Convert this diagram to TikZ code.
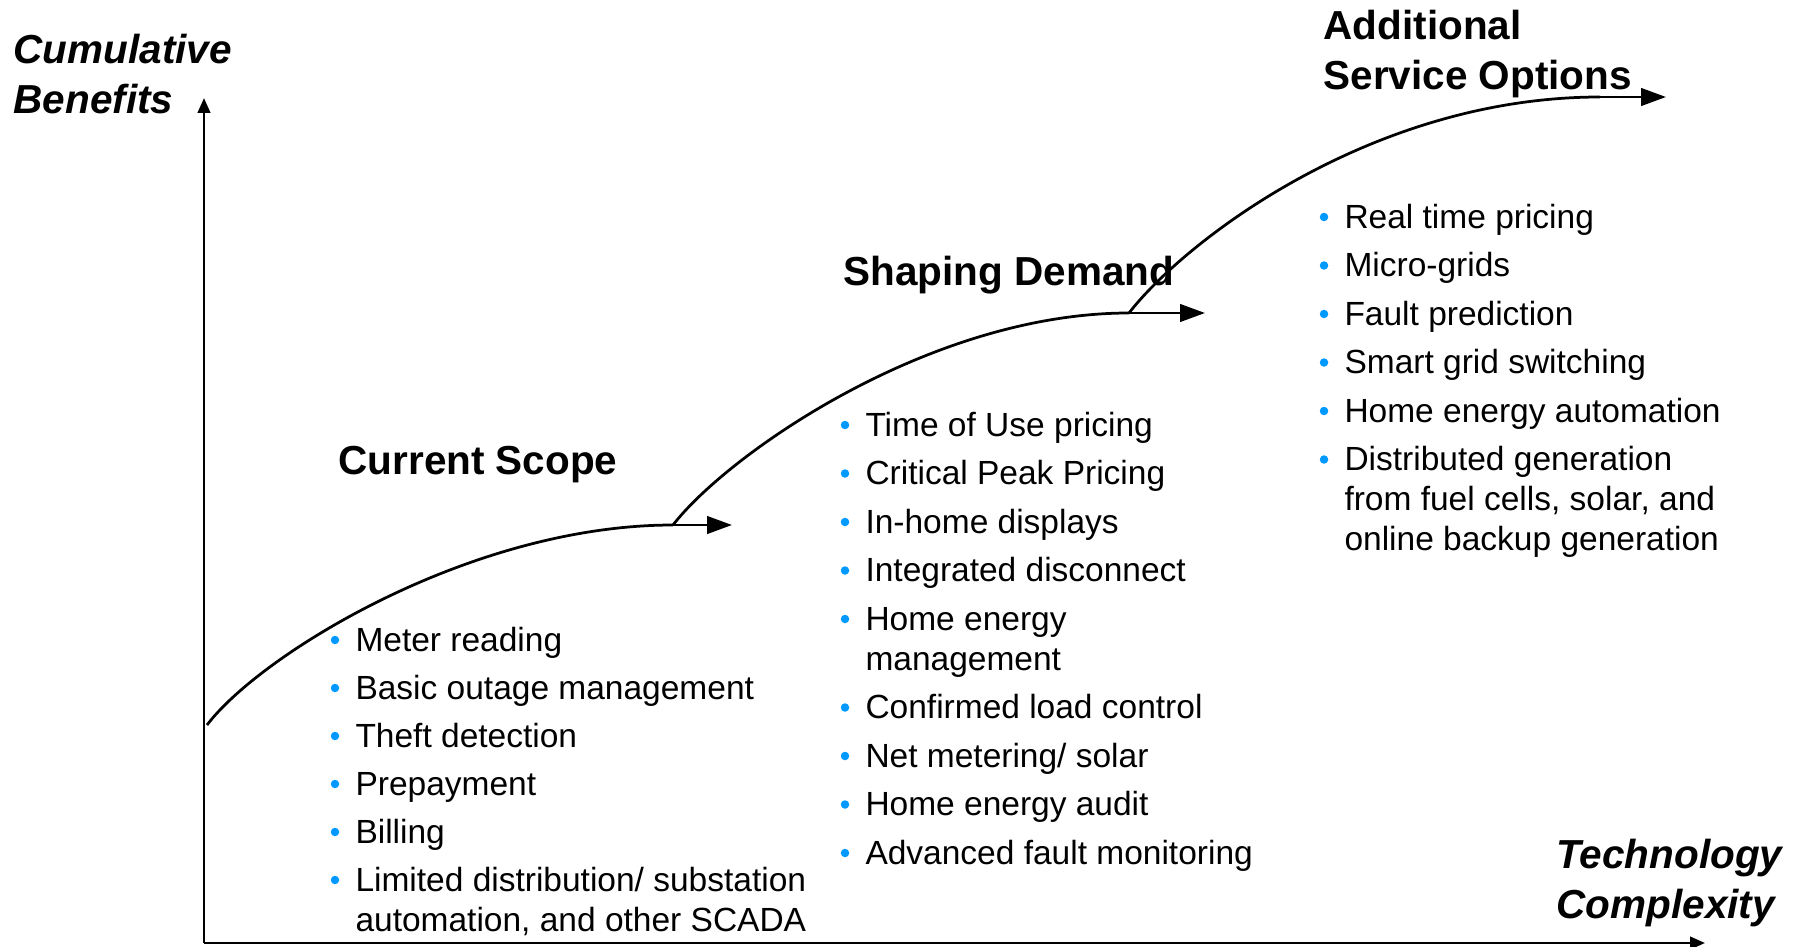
\documentclass[tikz,border=0pt]{standalone}
\usepackage{fontspec}
\setmainfont{Liberation Sans}
\usetikzlibrary{arrows.meta,calc}
\definecolor{bulletblue}{RGB}{0,153,255}
\newcommand\twoline[2]{\begin{tabular}[t]{@{}l@{}}#1\\#2\end{tabular}}
\newcommand\bitem[3]{%
  \node[itemtext] (#1) at #2 {#3};
  \fill[bulletblue] ($(#1.base west)+(-20,-11)$) circle[radius=1.7pt];}
\begin{document}
\begin{tikzpicture}[x=0.4pt,y=-0.4pt,
  itemtext/.style={anchor=base west,inner sep=0pt,font=\fontsize{13.4}{16}\selectfont},
  title/.style={anchor=base west,inner sep=0pt,font=\fontsize{16.2}{20}\selectfont\bfseries},
  axislabel/.style={anchor=base west,inner sep=0pt,font=\fontsize{16.2}{20}\selectfont\bfseries\itshape},
  curve/.style={line width=1.1pt},
  arr/.style={line width=1.1pt,-{Triangle[length=10pt,width=7pt]}},
  axis/.style={line width=1.1pt,-{Triangle[length=6pt,width=5pt]}}]
\useasboundingbox (0,0) rectangle (1803,946);

% axes
\coordinate (O) at (204,943);
\coordinate (ytip) at (204,98);
\coordinate (xtip) at (1705,943);
\draw[axis] (O) -- (ytip);
\draw[axis] (O) -- (xtip);

% axis labels
\node[axislabel] (ylab) at (13,64) {\begin{tabular}[t]{@{}l@{}}Cumulative\\Benefits\end{tabular}};
\node[axislabel] (xlab) at (1556,868) {\begin{tabular}[t]{@{}l@{}}Technology\\Complexity\end{tabular}};

% curves
\coordinate (c1s) at (207,725);
\coordinate (c1e) at (673,525);
\coordinate (c1t) at (732,525);
\coordinate (c2e) at (1129,313);
\coordinate (c2t) at (1205,313);
\coordinate (c3e) at (1600,97);
\coordinate (c3t) at (1666,97);
\draw[curve] (c1s) .. controls (260,655) and (470,525) .. (c1e);
\draw[arr] (c1e) -- (c1t);
\draw[curve] (c1e) .. controls (727,455) and (929,313) .. (c2e);
\draw[arr] (c2e) -- (c2t);
\draw[curve] (c2e) .. controls (1183,243) and (1370,97) .. (c3e);
\draw[arr] (c3e) -- (c3t);

% titles
\node[title] (t1) at (338,474) {Current Scope};
\node[title] (t2) at (843,285) {Shaping Demand};
\node[title] (t3) at (1323,40) {\begin{tabular}[t]{@{}l@{}}Additional\\Service Options\end{tabular}};

% column 1
\bitem{a1}{(355,651)}{Meter reading}
\bitem{a2}{(355,699)}{Basic outage management}
\bitem{a3}{(355,747)}{Theft detection}
\bitem{a4}{(355,795)}{Prepayment}
\bitem{a5}{(355,843)}{Billing}
\bitem{a6}{(355,891)}{\twoline{Limited distribution/ substation}{automation, and other SCADA}}

% column 2
\bitem{b1}{(865,436)}{Time of Use pricing}
\bitem{b2}{(865,484.5)}{Critical Peak Pricing}
\bitem{b3}{(865,533)}{In-home displays}
\bitem{b4}{(865,581.5)}{Integrated disconnect}
\bitem{b5}{(865,630)}{\twoline{Home energy}{management}}
\bitem{b6}{(865,718.5)}{Confirmed load control}
\bitem{b7}{(865,767)}{Net metering/ solar}
\bitem{b8}{(865,815.5)}{Home energy audit}
\bitem{b9}{(865,864)}{Advanced fault monitoring}

% column 3
\bitem{d1}{(1344,228)}{Real time pricing}
\bitem{d2}{(1344,276.5)}{Micro-grids}
\bitem{d3}{(1344,325)}{Fault prediction}
\bitem{d4}{(1344,373.5)}{Smart grid switching}
\bitem{d5}{(1344,422)}{Home energy automation}
\bitem{d6}{(1344,470.5)}{\begin{tabular}[t]{@{}l@{}}Distributed generation\\from fuel cells, solar, and\\online backup generation\end{tabular}}
\end{tikzpicture}
\end{document}
